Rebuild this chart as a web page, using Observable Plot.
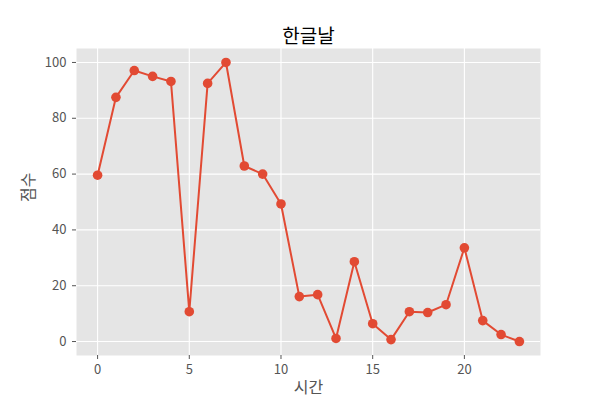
<!DOCTYPE html>
<html>
<head>
<meta charset="utf-8">
<script src="https://cdn.jsdelivr.net/npm/d3@7"></script>
<script src="https://cdn.jsdelivr.net/npm/@observablehq/plot@0.6"></script>
<style>
  html, body { margin: 0; padding: 0; background: #fff; }
  svg { font-family: "Noto Sans CJK KR", "Noto Sans", sans-serif; }
</style>
</head>
<body>
<div id="chart"></div>
<script>
const title = "한글날";
const xLabel = "시간";
const yLabel = "점수";
const hours = [0,1,2,3,4,5,6,7,8,9,10,11,12,13,14,15,16,17,18,19,20,21,22,23];
const scores = [59.6,87.5,97.1,95,93.2,10.7,92.5,100,62.9,60,49.3,16.1,16.8,1.1,28.6,6.4,0.7,10.7,10.4,13.2,33.6,7.5,2.5,0];
const xTicks = [0,5,10,15,20];
const yTicks = [0,20,40,60,80,100];

const data = hours.map((h, i) => ({h, s: scores[i]}));

const chart = Plot.plot({
  width: 600,
  height: 400,
  marginTop: 48,
  marginBottom: 45,
  marginLeft: 76,
  marginRight: 60,
  style: {fontFamily: '"Noto Sans CJK KR", sans-serif', background: "#fff"},
  x: {domain: [-1.15, 24.15]},
  y: {domain: [-5, 105]},
  marks: [
    Plot.frame({fill: "#E5E5E5", stroke: null}),
    Plot.gridX(xTicks, {stroke: "#fff", strokeOpacity: 1, strokeWidth: 1.1}),
    Plot.gridY(yTicks, {stroke: "#fff", strokeOpacity: 1, strokeWidth: 1.1}),
    Plot.axisX(xTicks, {stroke: "#555", fill: "#555", tickSize: 4, tickPadding: 5, fontSize: 13, label: null}),
    Plot.axisY(yTicks, {stroke: "#555", fill: "#555", tickSize: 4, tickPadding: 6, fontSize: 13, label: null}),
    Plot.line(data, {x: "h", y: "s", stroke: "#E24A33", strokeWidth: 2}),
    Plot.dot(data, {x: "h", y: "s", fill: "#E24A33", r: 4.8}),
    Plot.text([xLabel], {frameAnchor: "bottom", dy: 37, fontSize: 16, fill: "#555"}),
    Plot.text([yLabel], {frameAnchor: "left", dx: -48, rotate: -90, fontSize: 16, fill: "#555"}),
    Plot.text([title], {frameAnchor: "top", dy: -19, fontSize: 19, fill: "#000"})
  ]
});
document.getElementById("chart").appendChild(chart);
</script>
</body>
</html>
